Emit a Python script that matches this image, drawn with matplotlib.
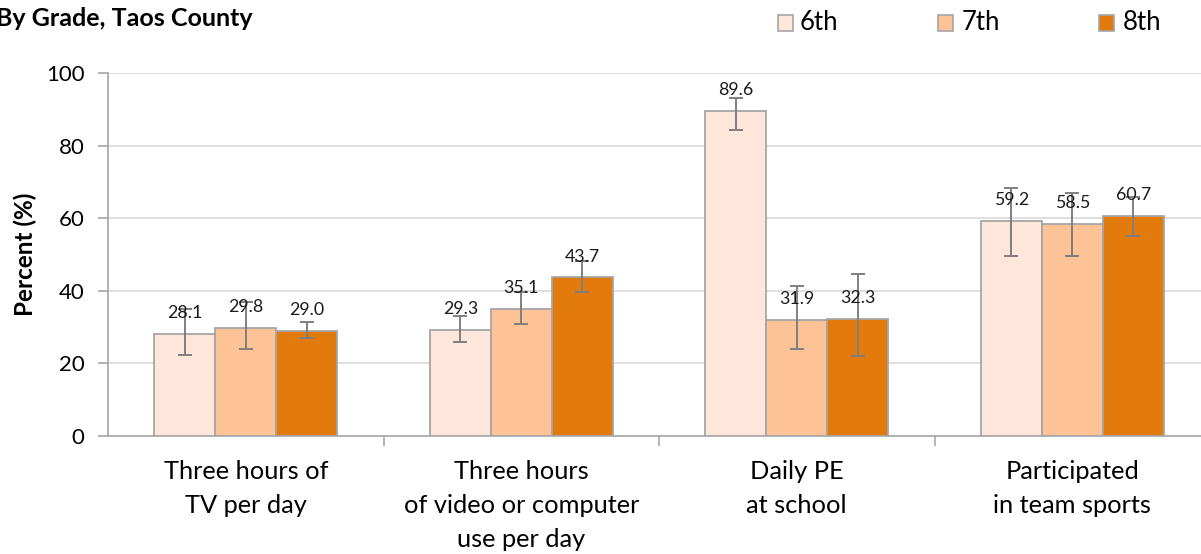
import matplotlib
matplotlib.use("Agg")
import matplotlib.pyplot as plt
from matplotlib.patches import Rectangle
import numpy as np

plt.rcParams['font.family'] = ['Lato', 'DejaVu Sans']

categories = ["Three hours of\nTV per day",
              "Three hours\nof video or computer\nuse per day",
              "Daily PE\nat school",
              "Participated\nin team sports"]
grades = ["6th", "7th", "8th"]
values = {
    "6th": [28.1, 29.3, 89.6, 59.2],
    "7th": [29.8, 35.1, 31.9, 58.5],
    "8th": [29.0, 43.7, 32.3, 60.7],
}
ci_low = {
    "6th": [22.3, 25.9, 84.3, 49.5],
    "7th": [24.0, 30.9, 24.0, 49.6],
    "8th": [26.9, 39.6, 22.1, 55.1],
}
ci_high = {
    "6th": [35.0, 33.1, 93.1, 68.4],
    "7th": [36.8, 39.8, 41.3, 67.0],
    "8th": [31.5, 48.3, 44.6, 65.9],
}
colors = {"6th": "#FEE6DA", "7th": "#FDC296", "8th": "#E27B0B"}
title = "By Grade, Taos County"
ylabel = "Percent (%)"

W, H = 1201, 554
fig = plt.figure(figsize=(W / 100, H / 100), dpi=100)
ax = fig.add_axes([108 / W, 1 - 436 / H, (1210 - 108) / W, (436 - 73) / H])

x = np.arange(len(categories))
bw = 0.221
for i, g in enumerate(grades):
    v = np.array(values[g])
    lo = v - np.array(ci_low[g])
    hi = np.array(ci_high[g]) - v
    pos = x + (i - 1) * bw
    ax.bar(pos, v, width=bw, color=colors[g], edgecolor="#A6A6A6", linewidth=1.3, zorder=3)
    ax.errorbar(pos, v, yerr=[lo, hi], fmt="none", ecolor="#7F7F7F", elinewidth=1.4,
                capsize=5, capthick=1.4, zorder=4)
    for px, val in zip(pos, v):
        ax.annotate(f"{val:.1f}", (px, val), xytext=(0, 15), textcoords="offset points",
                    ha="center", va="center", fontsize=12.8, color="#1a1a1a", zorder=5)

ax.set_xlim(-0.5, 3.5)
ax.set_ylim(0, 100)
ax.set_yticks(np.arange(0, 101, 20))
ax.yaxis.grid(True, color="#D9D9D9", linewidth=1.2, zorder=0)
ax.set_axisbelow(True)
for s in ["top", "right"]:
    ax.spines[s].set_visible(False)
for s in ["left", "bottom"]:
    ax.spines[s].set_color("#A6A6A6")
    ax.spines[s].set_linewidth(1.2)
ax.set_xticks(x)
ax.set_xticklabels(categories, fontsize=18.3, linespacing=1.6, va="top")
ax.tick_params(axis="x", which="major", length=0, pad=17)
ax.set_xticks([0.5, 1.5, 2.5, 3.5], minor=True)
ax.tick_params(axis="x", which="minor", length=7, color="#A6A6A6", width=1.2, direction="out")
ax.tick_params(axis="y", length=7, color="#A6A6A6", width=1.2, labelsize=16, pad=10)
ax.set_ylabel(ylabel, fontsize=17.5, fontweight="bold", labelpad=6)

fig.text(-4 / W, 1 - 19 / H, title, fontsize=18, fontweight="bold", ha="left", va="center")

leg_items = [(778, 800), (938, 962), (1099, 1123)]
for g, (sx, tx) in zip(grades, leg_items):
    fig.patches.append(Rectangle((sx / W, 1 - 31 / H), 15 / W, 16 / H, transform=fig.transFigure,
                                 facecolor=colors[g], edgecolor="#A6A6A6", linewidth=1.2))
    fig.text(tx / W, 1 - 23 / H, g, fontsize=18.5, ha="left", va="center")

fig.savefig("out.png", dpi=100)
